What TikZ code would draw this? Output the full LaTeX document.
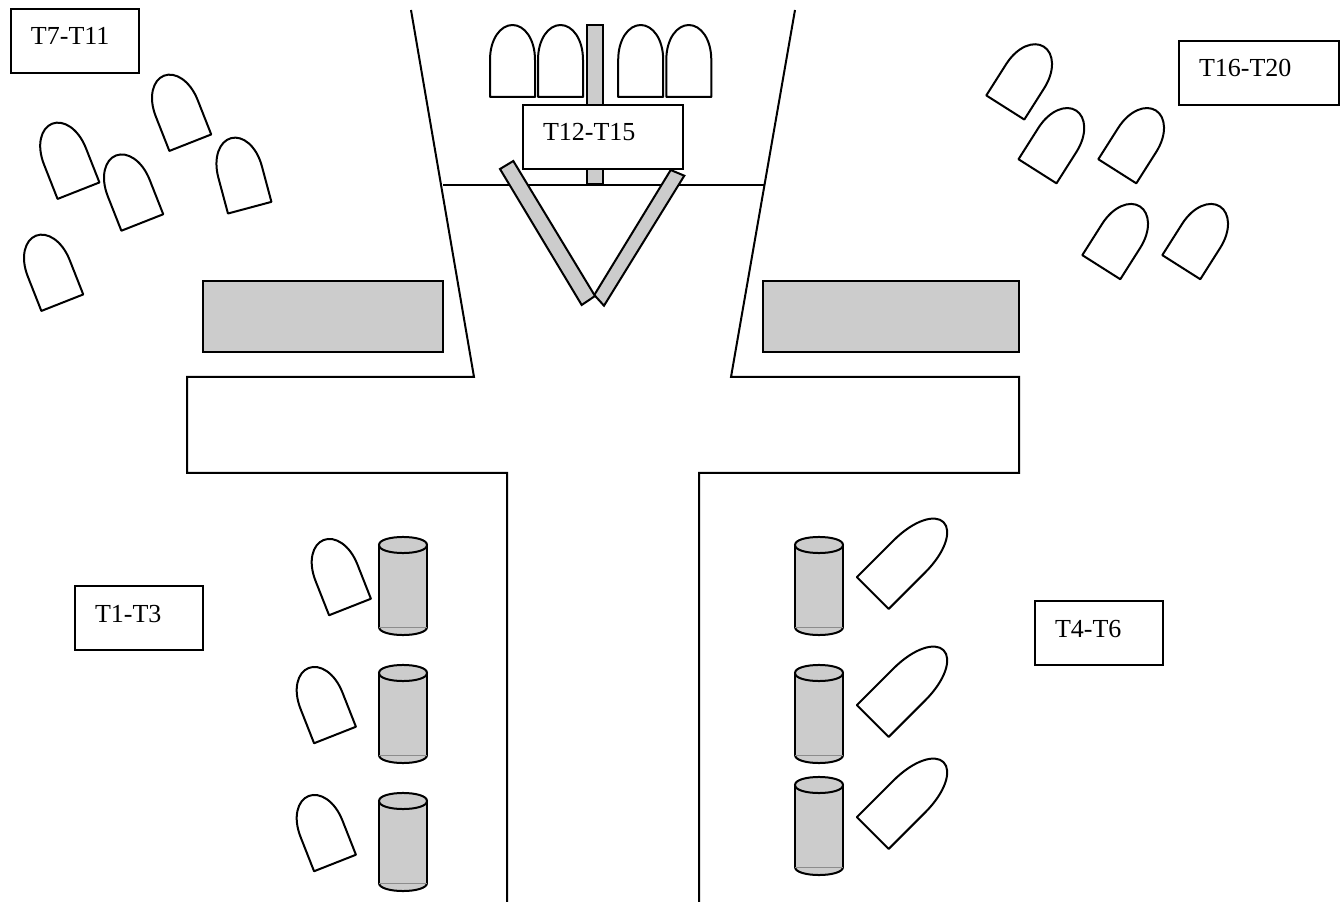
\documentclass[tikz,border=0pt]{standalone}
\usepackage{fontspec}
\setmainfont{Liberation Serif}
\definecolor{panel}{HTML}{CCCCCC}
\tikzset{
  ln/.style={line width=1.5pt,draw=black,line join=miter},
  grayshape/.style={ln,fill=panel},
  boatshape/.pic={
    \draw[ln,fill=white,line join=round] (-22.5,0) -- (-22.5,-37)
      .. controls (-22.5,-58) and (-12,-72) .. (0,-72)
      .. controls (12,-72) and (22.5,-58) .. (22.5,-37)
      -- (22.5,0) -- cycle;
  },
  cylshape/.pic={
    \path[fill=panel] (-24,0) -- (-24,82)
      .. controls (-24,92.7) and (24,92.7) .. (24,82) -- (24,0)
      .. controls (24,-10.7) and (-24,-10.7) .. (-24,0) -- cycle;
    \draw[ln] (-24,82) .. controls (-24,92.7) and (24,92.7) .. (24,82);
    \draw[line width=.6pt,draw=black!45] (-24,82) -- (24,82);
    \draw[ln] (-24,82) -- (-24,0) (24,0) -- (24,82);
    \draw[ln] (-24,0) .. controls (-24,-10.7) and (24,-10.7) .. (24,0)
      .. controls (24,10.7) and (-24,10.7) .. (-24,0) -- cycle;
  },
  lblbox/.style={draw=black,line width=1.5pt,fill=white,anchor=north west,
    inner xsep=15pt,inner ysep=0pt,outer sep=0pt,align=left,
    text height=27pt,text depth=21pt,font=\fontsize{19.5pt}{22pt}\selectfont},
  lblshort/.style={lblbox,text width=66pt},
  lbllong/.style={lblbox,text width=90pt}
}
\begin{document}
\begin{tikzpicture}[x=0.75pt,y=-0.75pt]
\path[use as bounding box,fill=white] (0,0) rectangle (1340,902);

% channel outlines
\draw[ln] (411,10) -- (474,377) -- (187,377) -- (187,473) -- (507,473) -- (507,902);
\draw[ln] (795,10) -- (731,377) -- (1019,377) -- (1019,473) -- (699,473) -- (699,902);
\draw[ln] (443,185) -- (765,185);

% grey blocks
\draw[grayshape] (203,281) rectangle (443,352);
\draw[grayshape] (763,281) rectangle (1019,352);

% centre pier and angled piers
\draw[grayshape] (587,25) rectangle (603,184);
\draw[grayshape] (670.7,170) -- (684.3,175.7) -- (604,305.7) -- (594.3,295) -- cycle;
\draw[grayshape] (500,169) -- (513.3,161) -- (595,296) -- (581.7,305) -- cycle;

% top row boats
\foreach \px in {512.5,560.5,640.7,688.8}
  \pic at (\px,97) {boatshape};

% T7-T11 boats
\pic[rotate=21.5] at (190.3,142.7) {boatshape};
\pic[rotate=21.5] at (78.5,190.7) {boatshape};
\pic[rotate=21.5] at (142.3,222.5) {boatshape};
\pic[rotate=15] at (249.7,207.7) {boatshape};
\pic[rotate=21.5] at (62.3,302.7) {boatshape};

% T16-T20 boats
\pic[rotate=-32.4] at (1005.3,107.5) {boatshape};
\pic[rotate=-32.4] at (1037.5,171.3) {boatshape};
\pic[rotate=-32.4] at (1117.3,171.3) {boatshape};
\pic[rotate=-32.4] at (1101.3,267.2) {boatshape};
\pic[rotate=-32.4] at (1181.3,267.2) {boatshape};

% T1-T3 boats and cylinders
\pic[rotate=21.5] at (350,607) {boatshape};
\pic[rotate=21.5] at (335,735) {boatshape};
\pic[rotate=21.5] at (335,863) {boatshape};
\pic at (403,545) {cylshape};
\pic at (403,673) {cylshape};
\pic at (403,801) {cylshape};

% T4-T6 boats and cylinders
\pic[rotate=-45,yscale=1.39] at (872.8,593) {boatshape};
\pic[rotate=-45,yscale=1.39] at (872.8,721) {boatshape};
\pic[rotate=-45,yscale=1.39] at (872.8,833) {boatshape};
\pic at (819,545) {cylshape};
\pic at (819,673) {cylshape};
\pic at (819,785) {cylshape};

% labels
\node[lblshort] (t7) at (11,9) {T7-T11};
\node[lbllong] (t12) at (523,105) {T12-T15};
\node[lbllong] (t16) at (1179,41) {T16-T20};
\node[lblshort] (t1) at (75,586) {T1-T3};
\node[lblshort] (t4) at (1035,601) {T4-T6};
\end{tikzpicture}
\end{document}
